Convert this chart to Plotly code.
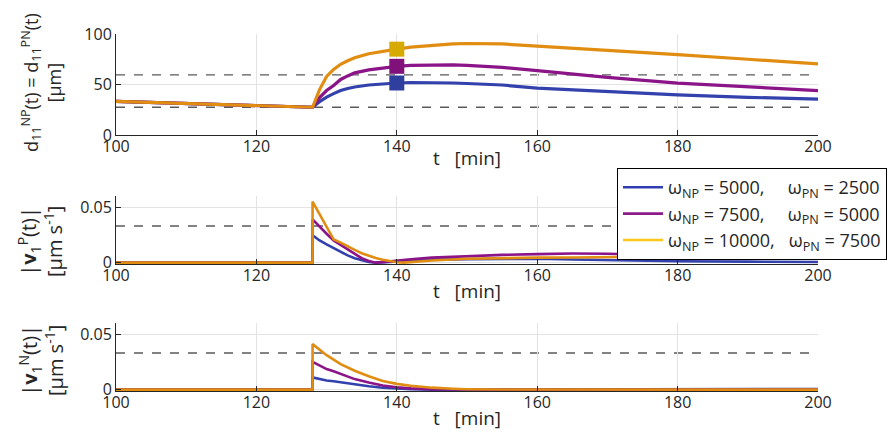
import plotly.graph_objects as go

# ---------------- data ----------------
series_names = ["ω<sub>NP</sub> = 5000,\u00a0\u00a0\u00a0\u00a0\u00a0ω<sub>PN</sub> = 2500",
                "ω<sub>NP</sub> = 7500,\u00a0\u00a0\u00a0\u00a0\u00a0ω<sub>PN</sub> = 5000",
                "ω<sub>NP</sub> = 10000,\u00a0\u00a0\u00a0ω<sub>PN</sub> = 7500"]

# top panel: d11(t) [µm]
t_d = [100, 110, 120, 128, 129, 130, 131, 132, 133, 134, 136, 138, 140, 142, 145, 148, 150, 155, 160, 170, 180, 190, 200]
d_blue   = [33.2, 31.3, 29.3, 27.5, 33.0, 37.5, 41.0, 44.0, 46.0, 47.5, 49.5, 50.8, 51.5, 52.0, 52.0, 51.5, 51.0, 49.5, 46.5, 43.0, 39.7, 37.3, 35.5]
d_purple = [33.2, 31.3, 29.3, 27.5, 37.0, 44.0, 49.0, 55.0, 58.5, 61.5, 64.5, 66.5, 68.0, 69.0, 69.5, 69.5, 69.0, 67.0, 63.8, 57.0, 51.3, 47.5, 44.0]
d_orange = [33.2, 31.3, 29.3, 27.5, 45.0, 58.0, 65.0, 70.0, 73.5, 76.5, 80.5, 83.0, 85.0, 87.0, 89.0, 90.3, 90.6, 90.2, 88.0, 84.0, 79.5, 75.0, 70.5]
marker_t = [140]
marker_blue, marker_purple, marker_orange = [51.5], [68.0], [85.0]
d_dash = [59.5, 27.5]

# middle panel: |v1^P(t)| [µm/s]
t_p = [100, 128, 128, 129, 130, 131, 132, 133, 134, 135, 136, 137, 138, 139, 140, 141, 142, 145, 150, 155, 160, 165, 170, 175, 180, 190, 200]
p_blue   = [0, 0, 0.0247, 0.0200, 0.0165, 0.0130, 0.0095, 0.0065, 0.0040, 0.0020, 0.0007, 0.0000, 0.0003, 0.0008, 0.0013, 0.0017, 0.0020, 0.0027, 0.0032, 0.0035, 0.0035, 0.0028, 0.0022, 0.0017, 0.0013, 0.0009, 0.0006]
p_purple = [0, 0, 0.0390, 0.0320, 0.0260, 0.0200, 0.0160, 0.0120, 0.0075, 0.0040, 0.0015, 0.0000, 0.0005, 0.0012, 0.0020, 0.0025, 0.0030, 0.0045, 0.0060, 0.0070, 0.0077, 0.0082, 0.0080, 0.0072, 0.0060, 0.0048, 0.0035]
p_orange = [0, 0, 0.0550, 0.0440, 0.0320, 0.0210, 0.0180, 0.0145, 0.0115, 0.0085, 0.0062, 0.0042, 0.0027, 0.0013, 0.0003, 0.0000, 0.0005, 0.0020, 0.0035, 0.0042, 0.0045, 0.0047, 0.0050, 0.0055, 0.0060, 0.0065, 0.0070]
p_dash = 0.033

# bottom panel: |v1^N(t)| [µm/s]
t_n = [100, 128, 128, 129, 130, 131, 132, 134, 136, 138, 140, 142, 145, 148, 150, 155, 160, 170, 180, 190, 200]
n_blue   = [0, 0, 0.0110, 0.0095, 0.0083, 0.0075, 0.0065, 0.0045, 0.0030, 0.0018, 0.0010, 0.0004, 0.0000, 0.0000, 0.0000, 0.0000, 0.0001, 0.0003, 0.0005, 0.0006, 0.0006]
n_purple = [0, 0, 0.0250, 0.0215, 0.0185, 0.0165, 0.0140, 0.0095, 0.0065, 0.0038, 0.0022, 0.0012, 0.0005, 0.0002, 0.0001, 0.0000, 0.0000, 0.0002, 0.0003, 0.0003, 0.0003]
n_orange = [0, 0, 0.0410, 0.0360, 0.0310, 0.0270, 0.0230, 0.0170, 0.0120, 0.0078, 0.0052, 0.0036, 0.0018, 0.0008, 0.0004, 0.0001, 0.0000, 0.0000, 0.0000, 0.0000, 0.0000]
n_dash = 0.033

x_ticks = [100, 120, 140, 160, 180, 200]
d_ticks = [0, 50, 100]
v_ticks = [0, 0.05]
v_ticklabels = ["0", "0.05"]

# ---------------- styling ----------------
line_colors = ["#3341AD", "#8A1488", "#E08D12"]
legend_colors = ["#2E3DB0", "#8B1A8B", "#FFC61E"]
marker_colors = ["#2E3F9E", "#80107A", "#D6AA00"]
FONT = "Open Sans, Segoe UI, DejaVu Sans, sans-serif"
axcol = "#262626"
gridcol = "#E3E3E3"

# page offset caused by the default 8px body margin
OFF = 8
W, H = 896 - OFF, 433 - OFF
PL, PR = 116 - OFF, 818 - OFF          # plot left / right in figure px
PW = PR - PL

def py(page_px):            # page y px -> paper y
    return 1 - (page_px - OFF) / H

def px(page_px):            # page x px -> paper x
    return (page_px - OFF - PL) / PW

def dom(top_px, bot_px):
    return [py(bot_px), py(top_px)]

fig = go.Figure()

panels = [
    ("x", "y", t_d, [d_blue, d_purple, d_orange], 3.2),
    ("x2", "y2", t_p, [p_blue, p_purple, p_orange], 2.6),
    ("x3", "y3", t_n, [n_blue, n_purple, n_orange], 2.6),
]
for xa, ya, tt, ys, w in panels:
    for yv, c in zip(ys, line_colors):
        fig.add_trace(go.Scatter(x=tt, y=yv, mode="lines", xaxis=xa, yaxis=ya,
                                 line=dict(color=c, width=w), showlegend=False,
                                 hoverinfo="skip"))

# square markers at t = 140
for yv, c in zip([marker_blue, marker_purple, marker_orange], marker_colors):
    fig.add_trace(go.Scatter(x=marker_t, y=yv, mode="markers", xaxis="x", yaxis="y",
                             marker=dict(symbol="square", size=15, color=c),
                             showlegend=False, hoverinfo="skip"))

# legend entries
for name, c in zip(series_names, legend_colors):
    fig.add_trace(go.Scatter(x=[None], y=[None], mode="lines", xaxis="x", yaxis="y",
                             line=dict(color=c, width=2.6), name=name, showlegend=True))

# dashed reference lines
dash_style = dict(color="#5A5A5A", width=1.4, dash="dash")
for v in d_dash:
    fig.add_shape(type="line", xref="x", yref="y", x0=100, x1=200, y0=v, y1=v, line=dash_style, layer="below")
fig.add_shape(type="line", xref="x2", yref="y2", x0=100, x1=200, y0=p_dash, y1=p_dash, line=dash_style, layer="below")
fig.add_shape(type="line", xref="x3", yref="y3", x0=100, x1=200, y0=n_dash, y1=n_dash, line=dash_style, layer="below")

common_x = dict(range=[100, 200], tickvals=x_ticks, showgrid=True, gridcolor=gridcol, gridwidth=1,
                showline=True, linecolor=axcol, linewidth=1, ticks="inside", ticklen=5, tickcolor=axcol,
                tickfont=dict(family=FONT, size=16, color=axcol), zeroline=False, automargin=False,
                ticklabelstandoff=-3)
common_y = dict(showgrid=True, gridcolor=gridcol, gridwidth=1, showline=True, linecolor=axcol, linewidth=1,
                ticks="inside", ticklen=5, tickcolor=axcol, zeroline=False, automargin=False,
                tickfont=dict(family=FONT, size=16, color=axcol))

fig.update_layout(
    width=W, height=H,
    margin=dict(l=PL, r=W - PR, t=0, b=0, pad=0, autoexpand=False),
    paper_bgcolor="white", plot_bgcolor="white",
    font=dict(family=FONT, color=axcol),
    xaxis=dict(common_x, domain=[0, 1], anchor="y"),
    xaxis2=dict(common_x, domain=[0, 1], anchor="y2"),
    xaxis3=dict(common_x, domain=[0, 1], anchor="y3"),
    yaxis=dict(common_y, domain=dom(34, 135), range=[0, 100], tickvals=d_ticks, anchor="x"),
    yaxis2=dict(common_y, domain=dom(196, 264), range=[-0.0012, 0.06], tickvals=v_ticks,
                ticktext=v_ticklabels, anchor="x2"),
    yaxis3=dict(common_y, domain=dom(323, 391), range=[-0.0012, 0.06], tickvals=v_ticks,
                ticktext=v_ticklabels, anchor="x3"),
    legend=dict(x=px(617), y=py(168), xanchor="left", yanchor="top",
                bordercolor="#000000", borderwidth=1, bgcolor="white",
                font=dict(family=FONT, size=18, color=axcol), tracegroupgap=0, itemwidth=40),
    showlegend=True,
)

# x-axis titles
for ypx in (158, 291, 418):
    fig.add_annotation(text="t\u00a0\u00a0\u00a0[min]", xref="paper", yref="paper", x=px(467), y=py(ypx),
                       xanchor="center", yanchor="middle", showarrow=False,
                       font=dict(family=FONT, size=19, color=axcol))

# y-axis titles
ytitles = [
    ("d<sub>11</sub><sup>NP</sup>(t) = d<sub>11</sub><sup>PN</sup>(t)<br>[µm]", 83, 18),
    ("|<b>v</b><sub>1</sub><sup>P</sup>(t)|<br>[µm s<sup>-1</sup>]", 242, 20),
    ("|<b>v</b><sub>1</sub><sup>N</sup>(t)|<br>[µm s<sup>-1</sup>]", 361, 20),
]
for txt, ypx, fs in ytitles:
    fig.add_annotation(text=txt, xref="paper", yref="paper", x=px(41), y=py(ypx),
                       xanchor="center", yanchor="middle", textangle=-90, showarrow=False,
                       font=dict(family=FONT, size=fs, color=axcol))

fig.write_html("out.html")
